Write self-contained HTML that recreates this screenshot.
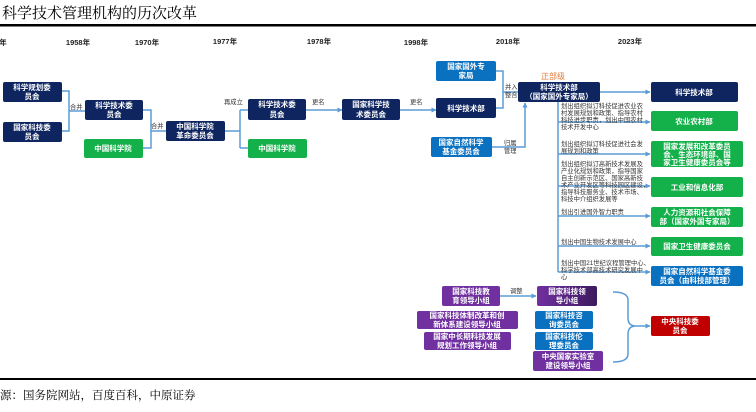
<!DOCTYPE html>
<html><head><meta charset="utf-8"><style>
html,body{margin:0;padding:0;background:#fff;width:756px;height:412px;overflow:hidden}
svg{display:block}
.b{font-family:"Liberation Sans","Noto Sans CJK SC",sans-serif;font-size:7.5px;fill:#fff;font-weight:bold;text-anchor:middle}
.s{font-family:"Liberation Sans","Noto Sans CJK SC",sans-serif;font-size:6.3px;fill:#333}
.y{font-family:"Liberation Sans","Noto Sans CJK SC",sans-serif;font-size:7.5px;fill:#222;font-weight:bold;text-anchor:middle}
</style></head><body>
<svg width="756" height="412" viewBox="0 0 756 412" xmlns="http://www.w3.org/2000/svg">
<defs>
<marker id="a" markerUnits="userSpaceOnUse" markerWidth="5" markerHeight="5" refX="4.5" refY="2.5" orient="auto"><path d="M0,0 L5,2.5 L0,5 z" fill="#5b9bd5"/></marker>
<linearGradient id="pg" x1="0" x2="1"><stop offset="0" stop-color="#7030a0"/><stop offset="1" stop-color="#3d1a5e"/></linearGradient>
</defs>
<text x="2" y="18" style="font-family:'Liberation Serif','Noto Serif CJK SC',serif;font-size:15px" fill="#000">科学技术管理机构的历次改革</text>
<rect x="0" y="24" width="756" height="2.5" fill="#000"/>
<rect x="0" y="378" width="756" height="2" fill="#000"/>
<text x="0" y="399" style="font-family:'Liberation Serif','Noto Serif CJK SC',serif;font-size:11.5px" fill="#000">源：国务院网站，百度百科，中原证券</text>

<g class="y"><text x="3" y="45">年</text><text x="78" y="45">1958年</text><text x="147" y="45">1970年</text><text x="225" y="44">1977年</text><text x="319" y="44">1978年</text><text x="416" y="45">1998年</text><text x="508" y="44">2018年</text><text x="630" y="44">2023年</text></g>

<g fill="none" stroke="#5b9bd5" stroke-width="1.5">
<path d="M62,91 H69 V131 H62 M69,111 H85"/>
<path d="M143,110 H151 V148 H143 M151,131 H166"/>
<path d="M225,131 H240 M240,110 V148 M240,110 H248 M240,148 H248"/>
<path d="M306,110 H342" marker-end="url(#a)"/>
<path d="M400,110 H436" marker-end="url(#a)"/>
<path d="M496,71 H503 V108 H496 M503,92 H518"/>
<path d="M492,147 H525 V103" marker-end="url(#a)"/>
<path d="M600,92 H650" marker-end="url(#a)"/>
<path d="M558,102 V272"/>
<path d="M558,122 H650" marker-end="url(#a)"/>
<path d="M558,154 H650" marker-end="url(#a)"/>
<path d="M558,186 H650" marker-end="url(#a)"/>
<path d="M558,216 H650" marker-end="url(#a)"/>
<path d="M558,246 H650" marker-end="url(#a)"/>
<path d="M558,272 H650" marker-end="url(#a)"/>
<path d="M500,296 H536" marker-end="url(#a)"/>
<path d="M613,292 Q628,292 628,300 V318 Q628,326 636,326 Q628,326 628,334 V354 Q628,362 613,362"/>
<path d="M636,326 H650" marker-end="url(#a)"/>
</g>

<g class="s">
<text x="70" y="109">合并</text><text x="151" y="128">合并</text>
<text x="224" y="104">再成立</text><text x="312" y="104">更名</text><text x="410" y="104">更名</text>
<text x="505" y="89">并入</text><text x="505" y="97">整合</text>
<text x="504" y="145">归属</text><text x="504" y="153">管理</text>
<text x="510" y="293">调整</text>
<text x="561" y="108">划出组织拟订科技促进农业农</text>
<text x="561" y="115">村发展规划和政策、指导农村</text>
<text x="561" y="122">科技进步职责，划出中国农村</text>
<text x="561" y="129">技术开发中心</text>
<text x="561" y="146">划出组织拟订科技促进社会发</text>
<text x="561" y="153">展规划和政策</text>
<text x="561" y="166">划出组织拟订高新技术发展及</text>
<text x="561" y="173">产业化规划和政策，指导国家</text>
<text x="561" y="180">自主创新示范区、国家高新技</text>
<text x="561" y="187">术产业开发区等科技园区建设，</text>
<text x="561" y="194">指导科技服务业、技术市场、</text>
<text x="561" y="201">科技中介组织发展等</text>
<text x="561" y="214">划出引进国外智力职责</text>
<text x="561" y="244">划出中国生物技术发展中心</text>
<text x="561" y="265">划出中国21世纪议程管理中心、</text>
<text x="561" y="272">科学技术部高技术研究发展中</text>
<text x="561" y="279">心</text>
</g>
<text x="553" y="79" style="font-family:'Liberation Sans','Noto Sans CJK SC',sans-serif;font-size:8px;fill:#e07b39;text-anchor:middle">正部级</text>

<g>
<rect x="3" y="82" width="59" height="20" rx="2" fill="#0f2560"/>
<rect x="3" y="122" width="59" height="20" rx="2" fill="#0f2560"/>
<rect x="85" y="100" width="58" height="20" rx="2" fill="#0f2560"/>
<rect x="84" y="139" width="59" height="19" rx="2" fill="#14b04a"/>
<rect x="166" y="121" width="59" height="20" rx="2" fill="#0f2560"/>
<rect x="248" y="99" width="58" height="21" rx="2" fill="#0f2560"/>
<rect x="248" y="139" width="59" height="19" rx="2" fill="#14b04a"/>
<rect x="342" y="99" width="58" height="21" rx="2" fill="#0f2560"/>
<rect x="436" y="61" width="60" height="20" rx="2" fill="#0a70c0"/>
<rect x="436" y="98" width="60" height="20" rx="2" fill="#0f2560"/>
<rect x="431" y="137" width="61" height="20" rx="2" fill="#0a70c0"/>
<rect x="518" y="82" width="82" height="20" rx="2" fill="#0f2560"/>
<rect x="651" y="82" width="87" height="20" rx="2" fill="#0f2560"/>
<rect x="651" y="111" width="87" height="20" rx="2" fill="#14b04a"/>
<rect x="651" y="141" width="92" height="26" rx="2" fill="#14b04a"/>
<rect x="651" y="177" width="92" height="20" rx="2" fill="#14b04a"/>
<rect x="651" y="207" width="92" height="20" rx="2" fill="#14b04a"/>
<rect x="651" y="237" width="92" height="19" rx="2" fill="#14b04a"/>
<rect x="651" y="266" width="92" height="20" rx="2" fill="#0a70c0"/>
<rect x="442" y="286" width="58" height="20" rx="2" fill="#7030a0"/>
<rect x="537" y="286" width="60" height="20" rx="2" fill="url(#pg)"/>
<rect x="417" y="311" width="101" height="18" rx="2" fill="#7030a0"/>
<rect x="424" y="332" width="87" height="18" rx="2" fill="#7030a0"/>
<rect x="535" y="311" width="58" height="18" rx="2" fill="#0a70c0"/>
<rect x="535" y="332" width="58" height="18" rx="2" fill="#0a70c0"/>
<rect x="533" y="351" width="70" height="20" rx="2" fill="#7030a0"/>
<rect x="651" y="316" width="59" height="20" rx="2" fill="#c00000"/>
</g>

<g class="b">
<text x="32" y="90">科学规划委</text><text x="32" y="99">员会</text>
<text x="32" y="130">国家科技委</text><text x="32" y="139">员会</text>
<text x="114" y="108">科学技术委</text><text x="114" y="117">员会</text>
<text x="113" y="151">中国科学院</text>
<text x="195" y="129">中国科学院</text><text x="195" y="138">革命委员会</text>
<text x="277" y="107">科学技术委</text><text x="277" y="117">员会</text>
<text x="277" y="151">中国科学院</text>
<text x="371" y="107">国家科学技</text><text x="371" y="117">术委员会</text>
<text x="466" y="69">国家国外专</text><text x="466" y="78">家局</text>
<text x="466" y="111">科学技术部</text>
<text x="461" y="145">国家自然科学</text><text x="461" y="154">基金委员会</text>
<text x="559" y="90">科学技术部</text><text x="559" y="99">（国家国外专家局）</text>
<text x="694" y="95">科学技术部</text>
<text x="694" y="124">农业农村部</text>
<text x="697" y="149">国家发展和改革委员</text><text x="697" y="157">会、生态环境部、国</text><text x="697" y="165">家卫生健康委员会等</text>
<text x="697" y="190">工业和信息化部</text>
<text x="697" y="215">人力资源和社会保障</text><text x="697" y="224">部（国家外国专家局）</text>
<text x="697" y="249">国家卫生健康委员会</text>
<text x="697" y="274">国家自然科学基金委</text><text x="697" y="283">员会（由科技部管理）</text>
<text x="471" y="294">国家科技教</text><text x="471" y="303">育领导小组</text>
<text x="567" y="294">国家科技领</text><text x="567" y="303">导小组</text>
<text x="467" y="318">国家科技体制改革和创</text><text x="467" y="327">新体系建设领导小组</text>
<text x="467" y="339">国家中长期科技发展</text><text x="467" y="348">规划工作领导小组</text>
<text x="564" y="318">国家科技咨</text><text x="564" y="327">询委员会</text>
<text x="564" y="339">国家科技伦</text><text x="564" y="348">理委员会</text>
<text x="568" y="359">中央国家实验室</text><text x="568" y="368">建设领导小组</text>
<text x="680" y="324">中央科技委</text><text x="680" y="333">员会</text>
</g>
</svg>
</body></html>
